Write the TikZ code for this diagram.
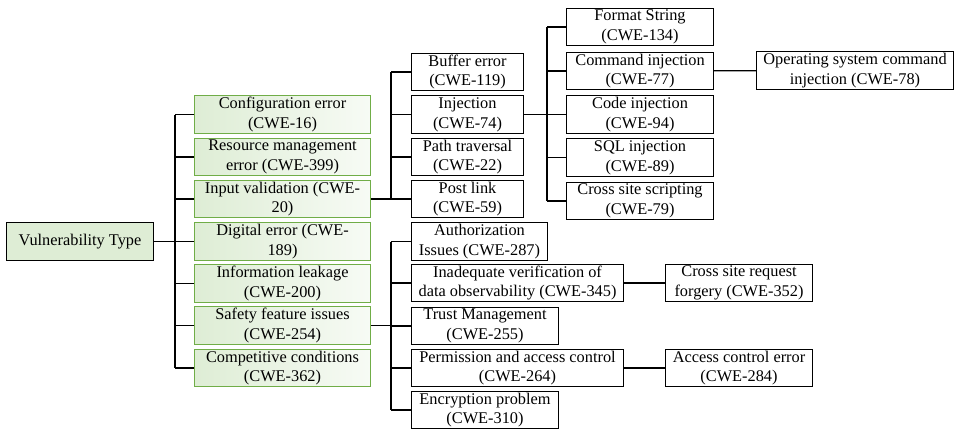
\documentclass[tikz,border=0pt]{standalone}
\usepackage{fontspec}
\setmainfont{Liberation Serif}
\usetikzlibrary{positioning}
\definecolor{grnline}{RGB}{112,173,71}
\definecolor{grnfill}{RGB}{222,237,213}
\definecolor{grnpale}{RGB}{247,251,245}

\begin{document}
\begin{tikzpicture}[x=0.02cm,y=-0.02cm,line width=0.75pt,
    box node/.style={draw,anchor=west,align=center,inner sep=0pt,minimum height=0.75cm,
      font=\rmfamily\fontsize{9.3}{11.3}\selectfont,line width=0.6pt},
    root node/.style={box node,fill=grnfill,minimum width=2.94cm},
    green node/.style={box node,draw=grnline,left color=grnfill,right color=grnpale,minimum width=3.52cm}]
  \useasboundingbox (0,0) rectangle (955,429);
  % root and first level
  \node[root node] (root) at (6,241.5) {Vulnerability Type};
  \node[green node] (cfg) at (194,114.5) {Configuration error\\(CWE-16)};
  \node[green node] (res) at (194,157) {Resource management\\error (CWE-399)};
  \node[green node] (inp) at (194,199) {Input validation (CWE-\\20)};
  \node[green node] (dig) at (194,241.5) {Digital error (CWE-\\189)};
  \node[green node] (leak) at (194,283.5) {Information leakage\\(CWE-200)};
  \node[green node] (safe) at (194,325.5) {Safety feature issues\\(CWE-254)};
  \node[green node] (race) at (194,368) {Competitive conditions\\(CWE-362)};
  % input validation
  \node[box node,minimum width=2.24cm] (buf) at (411,72) {Buffer error\\(CWE-119)};
  \node[box node,minimum width=2.24cm] (inj) at (411,114.5) {Injection\\(CWE-74)};
  \node[box node,minimum width=2.24cm] (path) at (411,157) {Path traversal\\(CWE-22)};
  \node[box node,minimum width=2.24cm] (post) at (411,199) {Post link\\(CWE-59)};
  % injection
  \node[box node,minimum width=2.94cm] (fmt) at (566,27) {Format String\\(CWE-134)};
  \node[box node,minimum width=2.94cm] (cmd) at (566,71) {Command injection\\(CWE-77)};
  \node[box node,minimum width=2.94cm] (code) at (566,114.5) {Code injection\\(CWE-94)};
  \node[box node,minimum width=2.94cm] (sql) at (566,157.5) {SQL injection\\(CWE-89)};
  \node[box node,minimum width=2.94cm] (xss) at (566,201) {Cross site scripting\\(CWE-79)};
  \node[box node,minimum width=3.94cm] (os) at (756,70.5) {Operating system command\\injection (CWE-78)};
  % safety features
  \node[box node,minimum width=2.72cm] (auth) at (411,241.5) {Authorization\\Issues (CWE-287)};
  \node[box node,minimum width=4.24cm] (verif) at (411,283) {Inadequate verification of\\data observability (CWE-345)};
  \node[box node,minimum width=2.94cm] (trust) at (411,326) {Trust Management\\(CWE-255)};
  \node[box node,minimum width=4.24cm] (perm) at (411,368) {Permission and access control\\(CWE-264)};
  \node[box node,minimum width=2.94cm] (crypt) at (411,410) {Encryption problem\\(CWE-310)};
  \node[box node,minimum width=2.94cm] (csrf) at (665,283) {Cross site request\\forgery (CWE-352)};
  \node[box node,minimum width=2.94cm] (acerr) at (665,368) {Access control error\\(CWE-284)};
  % buses
  \coordinate (busa) at (175,0);
  \coordinate (busb) at (391,0);
  \coordinate (busc) at (547,0);
  \draw (root.east) -- (root.east -| busa);
  \draw (cfg.west -| busa) -- (race.west -| busa);
  \foreach \n in {cfg,res,inp,dig,leak,safe,race}
    \draw (\n.west) -- (\n.west -| busa);
  \draw (inp.east) -- (inp.east -| busb);
  \draw (buf.west -| busb) -- (post.west -| busb);
  \foreach \n in {buf,inj,path,post}
    \draw (\n.west) -- (\n.west -| busb);
  \draw (inj.east) -- (inj.east -| busc);
  \draw (fmt.west -| busc) -- (xss.west -| busc);
  \foreach \n in {fmt,cmd,code,sql,xss}
    \draw (\n.west) -- (\n.west -| busc);
  \draw (safe.east) -- (safe.east -| busb);
  \draw (auth.west -| busb) -- (crypt.west -| busb);
  \foreach \n in {auth,verif,trust,perm,crypt}
    \draw (\n.west) -- (\n.west -| busb);
  \path[-] (cmd) edge (os);
  \path[-] (verif) edge (csrf);
  \path[-] (perm) edge (acerr);
\end{tikzpicture}
\end{document}
